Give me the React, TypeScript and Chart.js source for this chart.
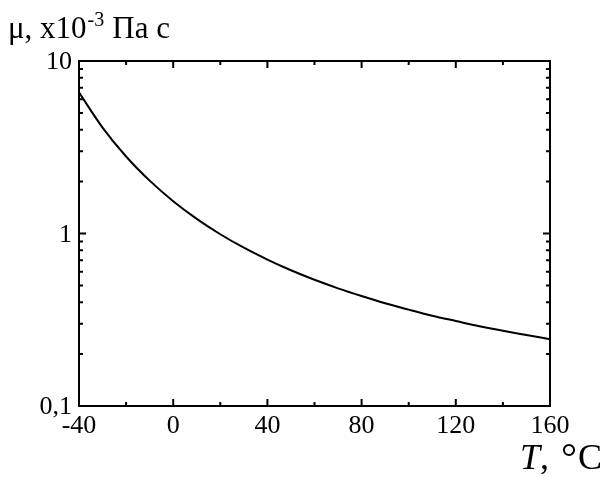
import { useEffect, useRef } from "react";
import { Chart, registerables } from "chart.js";

Chart.register(...registerables);

// Temperature, °C
const temperatures = [-40, -30, -20, -10, 0, 10, 20, 30, 40, 50, 60, 70, 80, 90, 100, 110, 120, 130, 140, 150, 160];
// Dynamic viscosity, x10^-3 Pa·s
const viscosity = [6.574, 4.114, 2.796, 2.025, 1.539, 1.216, 0.99, 0.827, 0.706, 0.612, 0.539, 0.481, 0.434, 0.394, 0.362, 0.334, 0.311, 0.29, 0.273, 0.258, 0.244];

const xMajorTicks = [-40, 0, 40, 80, 120, 160];
const xMinorTicks = [-20, 20, 60, 100, 140];
const yMajorTicks = [0.1, 1, 10];
const yTickLabels = ["0,1", "1", "10"];
const yMinorTicks = [0.2, 0.3, 0.4, 0.5, 0.6, 0.7, 0.8, 0.9, 2, 3, 4, 5, 6, 7, 8, 9];

const SERIF = '"Liberation Serif", "Times New Roman", serif';

function text(
  ctx: CanvasRenderingContext2D,
  str: string,
  x: number,
  y: number,
  align: CanvasTextAlign,
  font: string
) {
  ctx.font = font;
  ctx.textAlign = align;
  ctx.textBaseline = "alphabetic";
  ctx.fillText(str, x, y);
}

function textWidth(ctx: CanvasRenderingContext2D, str: string, font: string) {
  ctx.font = font;
  return ctx.measureText(str).width;
}

const framePlugin = {
  id: "frame",
  afterDraw(chart: any) {
    const ctx: CanvasRenderingContext2D = chart.ctx;
    const { left, right, top, bottom } = chart.chartArea;
    const xs = chart.scales.x;
    const ys = chart.scales.y;
    ctx.save();
    ctx.strokeStyle = "#000";
    ctx.fillStyle = "#000";
    ctx.lineWidth = 2;
    ctx.strokeRect(left, top, right - left, bottom - top);

    const major = 7;
    const minor = 4;
    ctx.beginPath();
    const xTick = (v: number, len: number) => {
      const px = xs.getPixelForValue(v);
      ctx.moveTo(px, bottom);
      ctx.lineTo(px, bottom - len);
      ctx.moveTo(px, top);
      ctx.lineTo(px, top + len);
    };
    const yTick = (v: number, len: number) => {
      const py = ys.getPixelForValue(v);
      ctx.moveTo(left, py);
      ctx.lineTo(left + len, py);
      ctx.moveTo(right, py);
      ctx.lineTo(right - len, py);
    };
    xMajorTicks.forEach((v) => xTick(v, major));
    xMinorTicks.forEach((v) => xTick(v, minor));
    yMajorTicks.forEach((v) => yTick(v, major));
    yMinorTicks.forEach((v) => yTick(v, minor));
    ctx.stroke();

    const tickFont = `26px ${SERIF}`;
    xMajorTicks.forEach((v) => {
      text(ctx, String(v), xs.getPixelForValue(v), bottom + 27, "center", tickFont);
    });
    yMajorTicks.forEach((v, i) => {
      text(ctx, yTickLabels[i], left - 7, ys.getPixelForValue(v) + 8, "right", tickFont);
    });

    // y-axis title: μ, x10^-3 Па с
    const titleFont = `31px ${SERIF}`;
    const supFont = `20px ${SERIF}`;
    let tx = 8;
    const tBase = 38;
    text(ctx, "μ, x10", tx, tBase, "left", titleFont);
    tx += textWidth(ctx, "μ, x10", titleFont) + 1;
    text(ctx, "-3", tx, tBase - 12, "left", supFont);
    tx += textWidth(ctx, "-3", supFont) + 8;
    text(ctx, "Па с", tx, tBase, "left", titleFont);

    // x-axis title: T, °C
    const xtFont = `36px ${SERIF}`;
    const xtItalic = `italic 36px ${SERIF}`;
    const xtBase = 469;
    const tStart = 520;
    text(ctx, "T", tStart, xtBase, "left", xtItalic);
    text(ctx, ",", tStart + textWidth(ctx, "T", xtItalic), xtBase, "left", xtFont);
    text(ctx, "°", 561, xtBase + 2, "left", `40px ${SERIF}`);
    text(ctx, "C", 602, xtBase, "right", xtFont);
    ctx.restore();
  },
};

export default function App() {
  const canvasRef = useRef<HTMLCanvasElement | null>(null);

  useEffect(() => {
    const canvas = canvasRef.current;
    if (!canvas) return;
    const chart = new Chart(canvas, {
      type: "line",
      data: {
        datasets: [
          {
            data: temperatures.map((t, i) => ({ x: t, y: viscosity[i] })),
            borderColor: "#000",
            borderWidth: 2,
            pointRadius: 0,
            cubicInterpolationMode: "monotone",
            fill: false,
          },
        ],
      },
      options: {
        responsive: false,
        animation: false,
        devicePixelRatio: 1,
        layout: { padding: { left: 79, right: 53, top: 61, bottom: 71 } },
        plugins: { legend: { display: false }, tooltip: { enabled: false } },
        scales: {
          x: { type: "linear", min: -40, max: 160, display: false },
          y: { type: "logarithmic", min: 0.1, max: 10, display: false },
        },
      },
      plugins: [framePlugin],
    });
    return () => chart.destroy();
  }, []);

  return (
    <div style={{ position: "absolute", left: 0, top: 0, background: "#fff" }}>
      <canvas ref={canvasRef} width={603} height={477} />
    </div>
  );
}
